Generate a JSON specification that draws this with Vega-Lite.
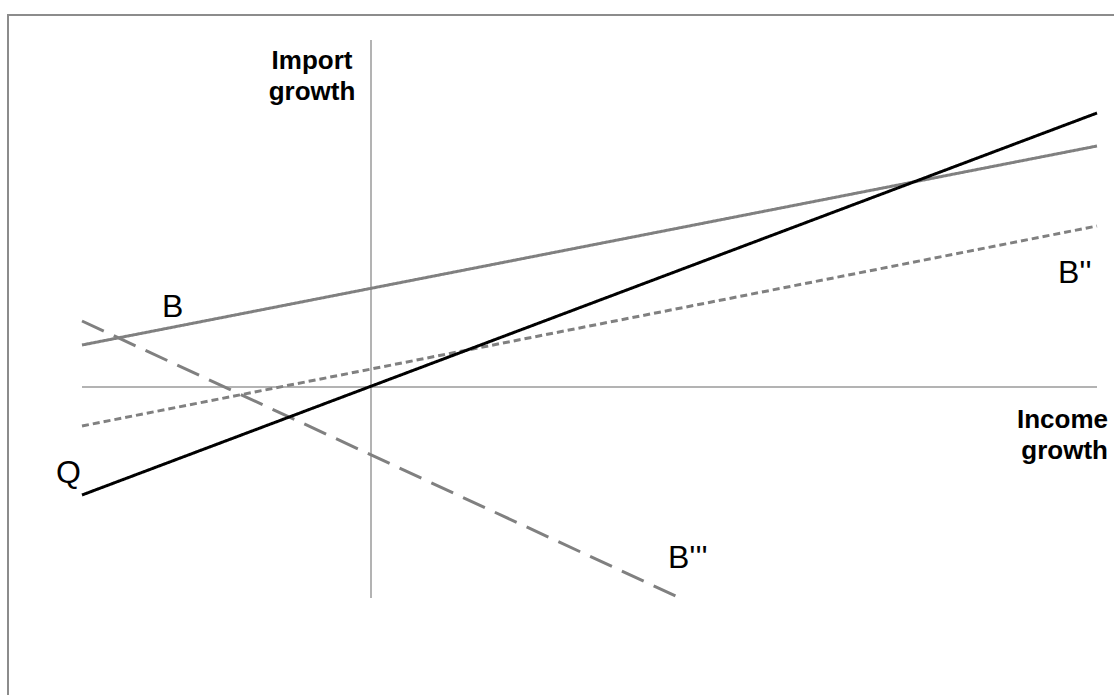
{
  "$schema": "https://vega.github.io/schema/vega-lite/v6.json",
  "width": 1114,
  "height": 695,
  "padding": 0,
  "autosize": {"type": "none"},
  "background": "white",
  "config": {"view": {"stroke": null}},
  "datasets": {
    "frame": [{"x": -36.3, "y": 37.2, "x2": 80, "y2": -40}],
    "axes": [
      {"x": -28.9, "y": 0, "x2": 72.6, "y2": 0},
      {"x": 0, "y": 34.7, "x2": 0, "y2": -21.1}
    ],
    "lines": [
      {"series": "B", "x": -28.9, "y": 4.2},
      {"series": "B", "x": 72.6, "y": 24.1},
      {"series": "B''", "x": -28.9, "y": -3.9},
      {"series": "B''", "x": 72.6, "y": 16.1},
      {"series": "B'''", "x": -28.9, "y": 6.6},
      {"series": "B'''", "x": 30.9, "y": -21.1},
      {"series": "Q", "x": -28.9, "y": -10.8},
      {"series": "Q", "x": 72.6, "y": 27.4}
    ],
    "labels": [
      {"text": "B", "x": -20.9, "y": 7.0},
      {"text": "B''", "x": 68.7, "y": 10.4},
      {"text": "B'''", "x": 29.7, "y": -18.1},
      {"text": "Q", "x": -31.5, "y": -9.6}
    ],
    "ylabels": [
      {"text": "Import", "x": -5.9, "y": 31.8},
      {"text": "growth", "x": -5.9, "y": 28.7}
    ],
    "xlabels": [
      {"text": "Income", "x": 73.7, "y": -4.1},
      {"text": "growth", "x": 73.7, "y": -7.2}
    ]
  },
  "encoding": {
    "x": {"field": "x", "type": "quantitative", "scale": {"domain": [-37.1, 74.3], "nice": false, "zero": false}, "axis": null},
    "y": {"field": "y", "type": "quantitative", "scale": {"domain": [-30.8, 38.7], "nice": false, "zero": false}, "axis": null}
  },
  "layer": [
    {
      "data": {"name": "frame"},
      "mark": {"type": "rect", "fill": null, "stroke": "#8c8c8c", "strokeWidth": 2, "clip": false},
      "encoding": {"x2": {"field": "x2"}, "y2": {"field": "y2"}}
    },
    {
      "data": {"name": "axes"},
      "mark": {"type": "rule", "stroke": "#9a9a9a", "strokeWidth": 1.5},
      "encoding": {"x2": {"field": "x2"}, "y2": {"field": "y2"}}
    },
    {
      "data": {"name": "lines"},
      "mark": {"type": "line", "strokeWidth": 3, "strokeCap": "butt"},
      "encoding": {
        "color": {"field": "series", "type": "nominal", "scale": {"domain": ["B", "B''", "B'''", "Q"], "range": ["#808080", "#808080", "#808080", "#000000"]}, "legend": null},
        "strokeDash": {"field": "series", "type": "nominal", "scale": {"domain": ["B", "B''", "B'''", "Q"], "range": [[1, 0], [7, 4], [24, 11], [1, 0]]}, "legend": null}
      }
    },
    {
      "data": {"name": "labels"},
      "mark": {"type": "text", "align": "left", "baseline": "alphabetic", "font": "Liberation Sans", "fontSize": 32, "color": "#000000"},
      "encoding": {"text": {"field": "text"}}
    },
    {
      "data": {"name": "ylabels"},
      "mark": {"type": "text", "align": "center", "baseline": "alphabetic", "font": "Liberation Sans", "fontWeight": "bold", "fontSize": 26, "color": "#000000"},
      "encoding": {"text": {"field": "text"}}
    },
    {
      "data": {"name": "xlabels"},
      "mark": {"type": "text", "align": "right", "baseline": "alphabetic", "font": "Liberation Sans", "fontWeight": "bold", "fontSize": 26, "color": "#000000"},
      "encoding": {"text": {"field": "text"}}
    }
  ]
}
